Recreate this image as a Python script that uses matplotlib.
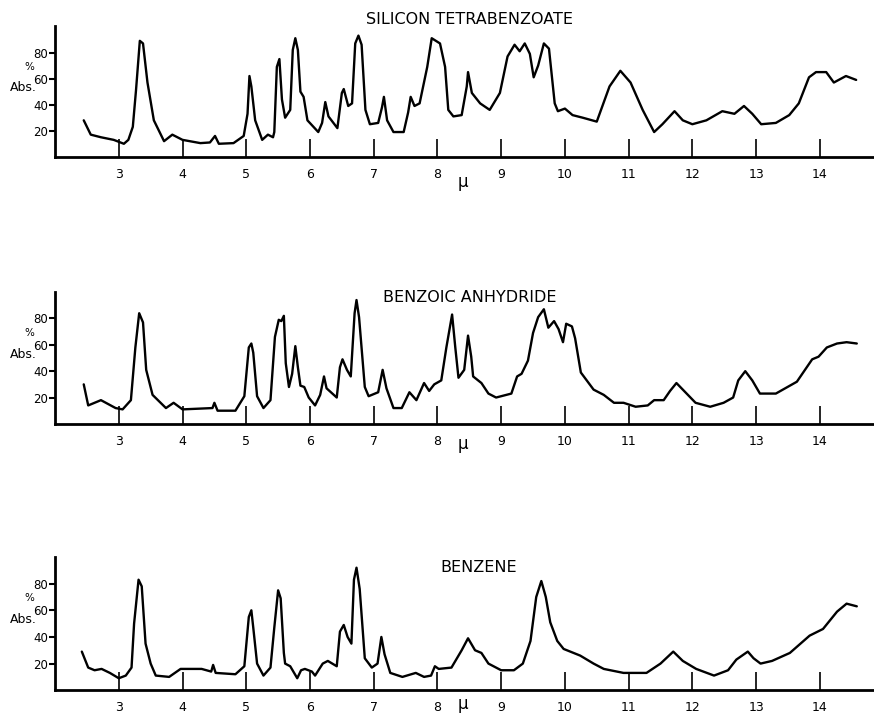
import matplotlib
matplotlib.use('Agg')
import matplotlib.pyplot as plt

# wavelength (micron) / % absorption
si_x = [2.45, 2.56, 2.72, 2.92, 3.08, 3.15, 3.22, 3.27, 3.33, 3.38, 3.45, 3.55, 3.71, 3.84, 4.0,
        4.28, 4.43, 4.51, 4.57, 4.8, 4.96, 5.02, 5.05, 5.08, 5.14, 5.25, 5.34, 5.42, 5.44, 5.48,
        5.52, 5.56, 5.61, 5.69, 5.73, 5.77, 5.81, 5.85, 5.9, 5.96, 6.13, 6.19, 6.24, 6.29, 6.43,
        6.5, 6.53, 6.6, 6.66, 6.71, 6.76, 6.81, 6.87, 6.94, 7.07, 7.13, 7.16, 7.21, 7.31, 7.47,
        7.54, 7.58, 7.64, 7.72, 7.84, 7.91, 8.04, 8.12, 8.17, 8.25, 8.38, 8.46, 8.48, 8.54, 8.67,
        8.82, 8.98, 9.1, 9.21, 9.29, 9.37, 9.45, 9.51, 9.58, 9.67, 9.75, 9.84, 9.89, 10.0, 10.12,
        10.28, 10.5, 10.7, 10.87, 11.03, 11.22, 11.4, 11.53, 11.72, 11.85, 12.0, 12.22, 12.47,
        12.66, 12.81, 12.94, 13.08, 13.31, 13.52, 13.67, 13.83, 13.94, 14.1, 14.22, 14.41, 14.57]
si_y = [28, 17, 15, 13, 10, 13, 23, 51, 89, 87, 57, 28, 12, 17, 13,
        10.5, 11, 16, 10, 10.5, 16, 33, 62, 54, 28, 13, 17, 15, 19, 69,
        75, 44, 30, 36, 82, 91, 82, 50, 46, 28, 19, 26, 42, 31, 22,
        49, 52, 39, 41, 87, 93, 86, 36, 25, 26, 38, 46, 28, 19, 19,
        34, 46, 39, 41, 69, 91, 87, 69, 36, 31, 32, 54, 65, 49, 41,
        36, 49, 77, 86, 81, 87, 79, 61, 70, 87, 83, 41, 35, 37, 32,
        30, 27, 54, 66, 57, 36, 19, 25, 35, 28, 25, 28, 35,
        33, 39, 33, 25, 26, 32, 41, 61, 65, 65, 57, 62, 59]

ba_x = [2.45, 2.52, 2.72, 2.95, 3.06, 3.19, 3.26, 3.32, 3.38, 3.43, 3.53, 3.74, 3.86, 4.0, 4.47,
        4.5, 4.55, 4.83, 4.97, 5.04, 5.08, 5.11, 5.17, 5.27, 5.38, 5.45, 5.51, 5.55, 5.59, 5.62,
        5.67, 5.72, 5.77, 5.81, 5.85, 5.91, 5.98, 6.08, 6.16, 6.22, 6.26, 6.42, 6.47, 6.51, 6.58,
        6.64, 6.7, 6.73, 6.77, 6.86, 6.92, 7.07, 7.14, 7.2, 7.31, 7.44, 7.56, 7.67, 7.79, 7.87,
        7.95, 8.06, 8.14, 8.23, 8.28, 8.33, 8.42, 8.48, 8.53, 8.56, 8.69, 8.8, 8.92, 9.16, 9.25,
        9.32, 9.42, 9.5, 9.58, 9.67, 9.74, 9.83, 9.9, 9.97, 10.02, 10.11, 10.16, 10.25, 10.45,
        10.61, 10.77, 10.92, 11.11, 11.3, 11.4, 11.55, 11.65, 11.75, 11.87, 12.05, 12.28, 12.49,
        12.64, 12.72, 12.83, 12.94, 13.06, 13.31, 13.64, 13.88, 13.98, 14.11, 14.27, 14.42, 14.58]
ba_y = [30, 14, 18, 12, 11, 18, 58, 84, 77, 41, 22, 12, 16, 11, 12,
        16, 10, 10, 21, 58, 61, 54, 21, 12, 18, 66, 79, 78, 82, 46,
        28, 38, 59, 43, 29, 28, 20, 14, 22, 36, 27, 20, 43, 49, 41,
        36, 84, 94, 81, 28, 21, 24, 41, 27, 12, 12, 24, 18, 31, 25,
        30, 33, 58, 83, 58, 35, 41, 67, 51, 36, 31, 23, 20, 23, 36,
        38, 48, 69, 81, 87, 73, 78, 72, 62, 76, 74, 65, 39, 26,
        22, 16, 16, 13, 14, 18, 18, 25, 31, 25, 16, 13, 16,
        20, 33, 40, 33, 23, 23, 32, 49, 51, 58, 61, 62, 61]

bz_x = [2.42, 2.52, 2.62, 2.73, 2.86, 3.0, 3.11, 3.2, 3.24, 3.31, 3.36, 3.42, 3.5, 3.58, 3.79,
        3.97, 4.3, 4.45, 4.48, 4.52, 4.83, 4.97, 5.04, 5.08, 5.11, 5.17, 5.27, 5.38, 5.44, 5.5,
        5.54, 5.59, 5.61, 5.69, 5.8, 5.86, 5.92, 6.03, 6.08, 6.2, 6.28, 6.42, 6.47, 6.53, 6.59,
        6.65, 6.69, 6.73, 6.78, 6.86, 6.97, 7.06, 7.12, 7.17, 7.26, 7.45, 7.66, 7.79, 7.9, 7.96,
        8.02, 8.22, 8.38, 8.48, 8.59, 8.69, 8.8, 9.0, 9.2, 9.34, 9.46, 9.55, 9.63, 9.7, 9.77,
        9.88, 9.98, 10.24, 10.45, 10.61, 10.92, 11.28, 11.5, 11.7, 11.85, 12.06, 12.34, 12.56,
        12.69, 12.87, 12.96, 13.07, 13.25, 13.53, 13.84, 14.05, 14.27, 14.42, 14.58]
bz_y = [29, 17, 15, 16, 13, 9, 11, 17, 50, 83, 78, 35, 20, 11, 10,
        16, 16, 14, 19, 13, 12, 18, 55, 60, 47, 20, 11, 17, 47, 75,
        69, 28, 20, 18, 9, 15, 16, 14, 11, 20, 22, 18, 44, 49, 40,
        35, 83, 92, 76, 24, 17, 20, 40, 27, 13, 10, 13, 10, 11, 18,
        16, 17, 30, 39, 30, 28, 20, 15, 15, 20, 37, 70, 82, 70, 51,
        37, 31, 26, 20, 16, 13, 13, 20, 29, 22, 16, 11, 15,
        23, 29, 24, 20, 22, 28, 41, 46, 59, 65, 63]

titles = ['SILICON TETRABENZOATE', 'BENZOIC ANHYDRIDE', 'BENZENE']
title_pos = [(8.5, 105), (8.5, 96), (8.65, 92)]
mu_y = [-19, -15, -10]
x_ticks = list(range(3, 15))
y_ticks = [20, 40, 60, 80]

spectra = [(si_x, si_y), (ba_x, ba_y), (bz_x, bz_y)]
# panel boxes in figure fractions (left, bottom, width, height)
boxes = [(0.063, 0.781, 0.937, 0.182),
         (0.063, 0.408, 0.937, 0.184),
         (0.063, 0.036, 0.937, 0.186)]

fig = plt.figure(figsize=(8.74, 7.16), dpi=100)

for (xs, ys), box, title, tpos, my in zip(spectra, boxes, titles, title_pos, mu_y):
    ax = fig.add_axes(box)
    ax.plot(xs, ys, color='black', linewidth=1.7, solid_joinstyle='round', solid_capstyle='round')
    ax.set_xlim(2.0, 14.85)
    ax.set_ylim(0, 100)
    for side in ['top', 'right']:
        ax.spines[side].set_visible(False)
    for side in ['left', 'bottom']:
        ax.spines[side].set_linewidth(2.0)
    ax.set_xticks(x_ticks)
    ax.set_xticklabels([str(t) for t in x_ticks])
    ax.set_yticks(y_ticks)
    ax.tick_params(axis='x', direction='in', length=13, width=1.2, pad=8, labelsize=9)
    ax.tick_params(axis='y', direction='out', length=4, width=1.5, pad=1, labelsize=8.5)
    ax.text(tpos[0], tpos[1], title, ha='center', va='center', fontsize=11.5, clip_on=False)
    ax.text(8.4, my, 'μ', ha='center', va='center', fontsize=12, clip_on=False)
    ax.text(1.6, 69, '%', ha='center', va='center', fontsize=7.5, clip_on=False)
    ax.text(1.71, 53, 'Abs.', ha='right', va='center', fontsize=9, clip_on=False)

plt.savefig('out.png', dpi=100)
plt.close()
